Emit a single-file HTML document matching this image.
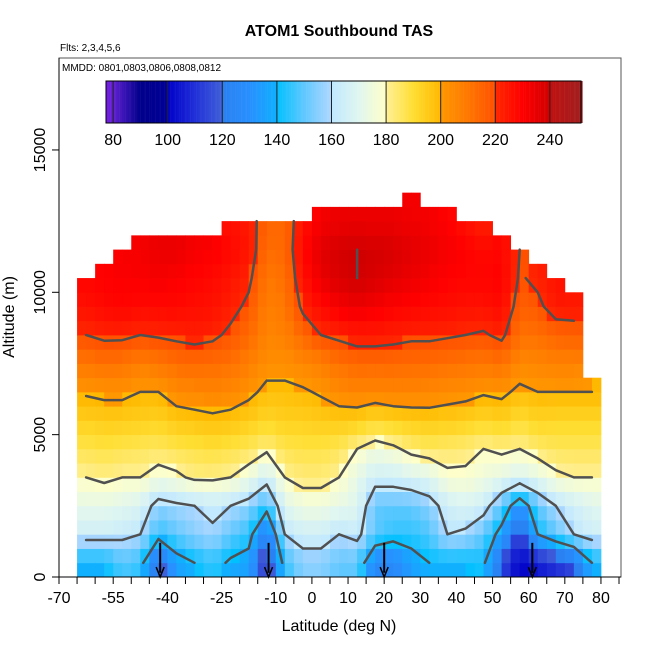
<!DOCTYPE html>
<html><head><meta charset="utf-8">
<style>
body{margin:0;background:#fff;}
svg{display:block;font-family:"Liberation Sans",sans-serif;}
</style></head>
<body>
<svg id="chart" width="650" height="650" viewBox="0 0 650 650">
<text x="339" y="36" text-anchor="middle" font-size="16" font-weight="bold">ATOM1 Southbound TAS</text>
<text x="60" y="51" font-size="10">Flts: 2,3,4,5,6</text>
<g id="plot"></g>
<rect x="59" y="58" width="562" height="519" fill="none" stroke="#555" stroke-width="1"/>
<text x="62" y="71" font-size="10">MMDD: 0801,0803,0806,0808,0812</text>
<g id="cbar"></g>
<g id="axes"></g>
<text x="339" y="631" text-anchor="middle" font-size="16">Latitude (deg N)</text>
<text transform="translate(14,317) rotate(-90)" text-anchor="middle" font-size="16">Altitude (m)</text>
</svg>
<script>
const latCenters=[-62.5,-57.5,-52.5,-47.5,-42.5,-37.5,-32.5,-27.5,-22.5,-17.5,-12.5,-7.5,-2.5,2.5,7.5,12.5,17.5,22.5,27.5,32.5,37.5,42.5,47.5,52.5,57.5,62.5,67.5,72.5,77.5];
const altCenters=[500,1500,2500,3500,4500,5500,6500,7500,8500,9500,10500,11500,12500,13500];
const ceilings=[10500,11000,11500,12000,12000,12000,12000,12000,12500,12500,12500,12500,12500,13000,13000,13000,13000,13000,13500,13000,13000,12500,12500,12000,11500,11000,10500,10000,7000];
const tas=[
[140,140,148,145,115,135,140,145,138,135,110,145,155,155,150,150,125,125,135,140,140,140,142,115,100,105,110,115,140],
[165,165,163,160,145,150,155,158,150,145,120,160,165,165,160,163,150,145,145,148,160,158,150,135,110,140,150,160,165],
[172,172,170,168,155,158,160,163,160,155,145,170,175,175,172,170,150,150,150,155,165,168,165,150,130,150,160,165,170],
[180,182,180,180,176,178,182,182,180,175,165,180,183,183,180,172,165,165,168,170,178,178,175,172,168,172,178,180,180],
[187,188,187,186,185,187,188,189,188,186,182,187,188,188,186,180,175,178,183,185,184,183,180,182,180,184,186,186,186],
[194,195,195,194,193,196,197,198,197,195,192,194,194,195,196,195,192,194,195,196,195,194,192,194,190,193,192,192,192],
[201,202,202,200,200,204,205,206,205,202,198,198,199,201,204,206,205,206,206,205,204,203,201,202,198,200,200,200,200],
[210,212,211,208,210,213,214,213,212,208,203,203,205,208,212,214,214,214,213,213,212,211,210,212,205,206,207,207,204],
[220,222,222,220,221,222,223,222,218,214,206,207,214,220,222,224,224,223,222,222,221,220,219,222,212,212,215,216,null],
[226,228,229,228,228,228,227,226,223,218,208,210,222,228,232,234,232,230,229,228,227,226,226,228,216,218,224,224,null],
[229,230,231,231,232,231,229,228,225,222,210,212,226,234,238,240,238,236,234,232,230,229,229,230,219,222,226,226,null],
[null,230,231,232,234,234,232,231,228,225,213,214,228,236,239,240,239,238,236,234,232,230,228,229,220,226,null,null,null],
[null,null,null,null,null,null,null,null,226,224,215,214,226,232,234,234,234,234,233,232,230,226,222,null,null,null,null,null,null],
[null,null,null,null,null,null,null,null,null,null,null,null,null,null,null,null,null,null,232,null,null,null,null,null,null,null,null,null,null]
];
const contourLevels=[140,160,180,200,220,240];
const xTickLabels=[-70,-55,-40,-25,-10,0,10,20,30,40,50,60,70,80];
const yTickLabels=[0,5000,10000,15000];
const cbarLabels=[80,100,120,140,160,180,200,220,240];
const arrowLats=[-42,-12,20,61];

const NS='http://www.w3.org/2000/svg';
function xs(lat){return 59+(lat+70)*3.613;}
function ys(alt){return 577-alt*0.02847;}
function mk(tag,attrs,parent){const e=document.createElementNS(NS,tag);for(const k in attrs)e.setAttribute(k,attrs[k]);parent.appendChild(e);return e;}
const stops=[[77,[123,31,232]],[80,[96,32,208]],[90,[0,0,139]],[100,[0,0,150]],[100.01,[0,0,200]],[110,[32,48,216]],[120,[64,96,216]],[120.01,[42,128,240]],[130,[40,144,255]],[140,[16,176,255]],[140.01,[0,192,255]],[150,[96,200,255]],[160,[176,216,255]],[160.01,[192,232,255]],[170,[224,246,240]],[180,[255,255,200]],[180.01,[255,240,150]],[190,[255,222,50]],[200,[255,184,0]],[200.01,[255,152,0]],[210,[255,120,0]],[220,[255,80,0]],[220.01,[255,40,0]],[230,[255,0,0]],[240,[208,0,0]],[240.01,[192,16,16]],[252,[160,32,32]]];
function col(v){
  if(v<=stops[0][0])return 'rgb('+stops[0][1]+')';
  for(let i=1;i<stops.length;i++){if(v<=stops[i][0]){const a=stops[i-1],b=stops[i];const t=(v-a[0])/(b[0]-a[0]);const c=a[1].map((q,k)=>Math.round(q+(b[1][k]-q)*t));return 'rgb('+c.join(',')+')';}}
  return 'rgb('+stops[stops.length-1][1]+')';
}
function val(j,i){if(j<0||j>=altCenters.length||i<0||i>=latCenters.length)return null;const v=tas[j][i];if(v==null||altCenters[j]>ceilings[i])return null;return v;}
// bilinear sample of the grid for visual sub-cells
function sample(lat,alt,i0,j0){
  const fi=(lat-latCenters[0])/5, fj=(alt-altCenters[0])/1000;
  let i=Math.floor(fi), j=Math.floor(fj);
  const ti=fi-i, tj=fj-j;
  let s=0,w=0;
  const cand=[[j,i,(1-ti)*(1-tj)],[j,i+1,ti*(1-tj)],[j+1,i,(1-ti)*tj],[j+1,i+1,ti*tj]];
  for(const [jj,ii,ww] of cand){const v=val(jj,ii);if(v!=null&&ww>0){s+=v*ww;w+=ww;}}
  return w>0?s/w:tas[j0][i0];
}
const plot=document.getElementById('plot');
for(let j=0;j<altCenters.length;j++){
  for(let i=0;i<latCenters.length;i++){
    const v=tas[j][i]; if(v==null)continue;
    const lo=altCenters[j]-500; if(lo>=ceilings[i])continue;
    for(let sj=0;sj<2;sj++){
      const a0=lo+sj*500; if(a0>=ceilings[i])continue;
      const a1=Math.min(a0+500,ceilings[i]);
      for(let si=0;si<2;si++){
        const l0=latCenters[i]-2.5+si*2.5;
        const sv=sample(l0+1.25,a0+250,i,j);
        const x0=xs(l0),x1=xs(l0+2.5);
        const r=mk('rect',{x:x0,y:ys(a1),width:x1-x0+0.4,height:ys(a0)-ys(a1)+0.4,fill:col(sv)},plot);
        
        
      }
    }
  }
}
const cg=mk('g',{stroke:'#505050','stroke-width':2.5,fill:'none','stroke-linecap':'round'},plot);


for(const L of contourLevels){
  let d='';
  for(let j=0;j<altCenters.length-1;j++)for(let i=0;i<latCenters.length-1;i++){
    const a=val(j,i),b=val(j,i+1),c=val(j+1,i+1),e=val(j+1,i);
    if(a==null||b==null||c==null||e==null)continue;
    const P=[[latCenters[i],altCenters[j],a],[latCenters[i+1],altCenters[j],b],[latCenters[i+1],altCenters[j+1],c],[latCenters[i],altCenters[j+1],e]];
    const pts=[];
    for(let k=0;k<4;k++){const p=P[k],q=P[(k+1)%4];if((p[2]<L)!==(q[2]<L)){const t=(L-p[2])/(q[2]-p[2]);pts.push([xs(p[0]+(q[0]-p[0])*t),ys(p[1]+(q[1]-p[1])*t)]);}}
    for(let k=0;k+1<pts.length;k+=2)d+='M'+pts[k][0].toFixed(1)+','+pts[k][1].toFixed(1)+'L'+pts[k+1][0].toFixed(1)+','+pts[k+1][1].toFixed(1);
  }
  if(d){const p=mk('path',{d:d},cg);}
}
for(const la of arrowLats){
  const g=mk('g',{},plot);
  
  
  mk('line',{x1:xs(la),y1:ys(1200),x2:xs(la),y2:ys(150),stroke:'#000','stroke-width':2},g);
  mk('path',{d:'M'+(xs(la)-4)+','+(ys(350))+'L'+xs(la)+','+ys(0)+'L'+(xs(la)+4)+','+ys(350),stroke:'#000','stroke-width':1.5,fill:'none'},g);
}
const ax=document.getElementById('axes');
mk('line',{x1:59,y1:577,x2:621,y2:577,stroke:'#000','stroke-width':1},ax);
for(let l=-70;l<=85;l+=5){const t=mk('line',{x1:xs(l),y1:577,x2:xs(l),y2:584,stroke:'#000'},ax);}
for(const l of xTickLabels){const t=mk('text',{x:xs(l),y:603,'text-anchor':'middle','font-size':16},ax);t.textContent=l;}
mk('line',{x1:59,y1:58,x2:59,y2:577,stroke:'#000'},ax);
for(const a of yTickLabels){const y=ys(a);const t=mk('line',{x1:52,y1:y,x2:59,y2:y,stroke:'#000'},ax);
  const tx=mk('text',{transform:'translate(45,'+y+') rotate(-90)','text-anchor':'middle','font-size':16},ax);tx.textContent=a;}
const cb=document.getElementById('cbar');
function cx(v){return 106+(v-77.4)*2.73;}
for(let v=77.4;v<251.5;v+=0.5){mk('rect',{x:cx(v),y:81,width:1.6,height:42,fill:col(v+0.25)},cb);}
for(const v of cbarLabels){
  const l=mk('line',{x1:cx(v),y1:81,x2:cx(v),y2:123,stroke:'#222','stroke-width':1},cb);
  
  const t=mk('text',{x:cx(v),y:145,'text-anchor':'middle','font-size':16},cb);t.textContent=v;
  
}
mk('rect',{x:106,y:81,width:475,height:42,fill:'none',stroke:'#000','stroke-width':1},cb);
</script>
</body></html>
